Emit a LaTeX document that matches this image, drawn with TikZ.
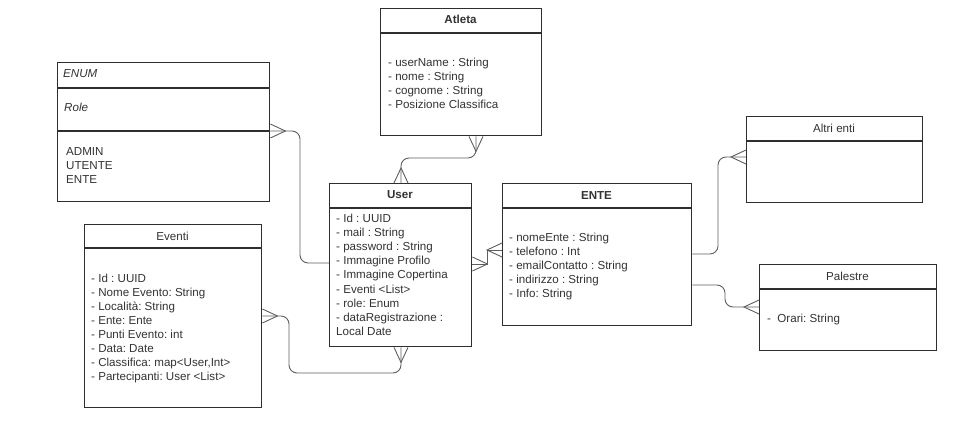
\documentclass[tikz,border=0pt]{standalone}
\usepackage{fontspec}
\setmainfont{Liberation Sans}
\usetikzlibrary{calc}
\frenchspacing
\definecolor{boxc}{HTML}{2E2E2E}
\definecolor{txtc}{HTML}{333333}
\definecolor{connc}{HTML}{5E5E5E}
\newcommand\crowv[2]{\draw[conn] ($(#1)+(-7,0)$) -- ($(#1)+(0,#2*15)$) -- ($(#1)+(7,0)$);}
\newcommand\crowh[2]{\draw[conn] ($(#1)+(0,-7)$) -- ($(#1)+(#2*15,0)$) -- ($(#1)+(0,7)$);}
\newcommand\attrlist[5]{%
  \foreach \t [count=\i from 0] in {#5} {
    \node[attr] (#1-\i) at (#2, {#3+#4*\i}) {\t};
  }}
\begin{document}
\begin{tikzpicture}[x=1pt,y=-1pt,
  box/.style={draw=boxc, line width=1.4pt, fill=white, inner sep=0pt, anchor=north west},
  sepline/.style={draw=boxc, line width=1.4pt},
  conn/.style={draw=connc, line width=0.9pt},
  ttl/.style={text=txtc, inner sep=0pt, anchor=base},
  attr/.style={text=txtc, inner sep=0pt, anchor=base west},
  font=\fontsize{11.6}{14}\selectfont\frenchspacing]
\useasboundingbox (0,0) rectangle (976,442);
\fill[white] (0,0) rectangle (976,442);

% boxes
\node[box, minimum width=161, minimum height=127] (atleta) at (380,8) {};
\node[box, minimum width=212, minimum height=139] (enum) at (57,62) {};
\node[box, minimum width=142, minimum height=163] (user) at (329,183) {};
\node[box, minimum width=189, minimum height=142] (ente) at (502,183) {};
\node[box, minimum width=176, minimum height=86] (altri) at (746,116) {};
\node[box, minimum width=177, minimum height=86] (palestre) at (759,264) {};
\node[box, minimum width=177, minimum height=183] (eventi) at (84,224) {};

% separators
\draw[sepline] (atleta.west |- 0,33) -- (atleta.east |- 0,33);
\draw[sepline] (enum.west |- 0,88) -- (enum.east |- 0,88);
\draw[sepline] (enum.west |- 0,131) -- (enum.east |- 0,131);
\draw[sepline] (user.west |- 0,208) -- (user.east |- 0,208);
\draw[sepline] (ente.west |- 0,208) -- (ente.east |- 0,208);
\draw[sepline] (altri.west |- 0,141) -- (altri.east |- 0,141);
\draw[sepline] (palestre.west |- 0,289) -- (palestre.east |- 0,289);
\draw[sepline] (eventi.west |- 0,248) -- (eventi.east |- 0,248);

% titles
\node[ttl] (atleta-title) at (460.5,23) {\bfseries Atleta};
\node[ttl] (user-title) at (400,198) {\bfseries User};
\node[ttl] (ente-title) at (596.5,199) {\bfseries ENTE};
\node[ttl] (altri-title) at (834,132) {Altri enti};
\node[ttl] (palestre-title) at (847.5,280) {Palestre};
\node[ttl] (eventi-title) at (172.5,240) {Eventi};
\node[attr] (enum-title) at (63,77) {\itshape ENUM};
\node[attr] (enum-role) at (64,111) {\itshape Role};

% attributes
\attrlist{atleta}{388}{66}{14}{- userName : String, - nome : String, - cognome : String, - Posizione Classifica}
\attrlist{enumv}{66}{155}{14}{ADMIN, UTENTE, ENTE}
\attrlist{user}{336}{222}{14.2}{- Id : UUID, - mail : String, - password : String, - Immagine Profilo, - Immagine Copertina, - Eventi <List>, - role: Enum, - dataRegistrazione :, Local Date}
\attrlist{ente}{509}{241}{14}{- nomeEnte : String, - telefono : Int, - emailContatto : String, - indirizzo : String, - Info: String}
\node[attr] (palestre-0) at (767,322) {-\hspace{0.55em}Orari: String};
\attrlist{eventi}{91}{282}{14.1}{- Id : UUID, - Nome Evento: String, - Località: String, - Ente: Ente, - Punti Evento: int, - Data: Date, {- Classifica: map<User,Int>}, - Partecipanti: User <List>}

% connectors
\coordinate (cA) at (atleta.south -| 476,0);
\coordinate (cU1) at (user.north -| 401,0);
\draw[conn, rounded corners=8] (cA) -- (cA |- 0,158) -- (cU1 |- 0,158) -- (cU1);
\crowv{cA}{1}
\crowv{cU1}{-1}

\coordinate (cE) at (enum.east |- 0,131);
\coordinate (cU2) at (user.west |- 0,263);
\draw[conn, rounded corners=8] (cE) -- (cE -| 300,0) -- (300,263) -- (cU2);
\crowh{cE}{1}

\coordinate (cV) at (eventi.east |- 0,316);
\coordinate (cU3) at (user.south -| 401,0);
\draw[conn, rounded corners=8] (cV) -- (cV -| 289,0) -- (289,373) -- (cU3 |- 0,373) -- (cU3);
\crowh{cV}{1}
\crowv{cU3}{1}

\coordinate (cU4) at (user.east |- 0,264);
\coordinate (cN1) at (ente.west |- 0,250);
\draw[conn] (cU4) -- (cU4 -| 487,0) -- (487,250) -- (cN1);
\crowh{cU4}{1}
\crowh{cN1}{-1}

\coordinate (cN2) at (ente.east |- 0,254);
\coordinate (cL) at (altri.west |- 0,157);
\draw[conn, rounded corners=8] (cN2) -- (cN2 -| 718,0) -- (718,157) -- (cL);
\crowh{cL}{-1}

\coordinate (cN3) at (ente.east |- 0,285);
\coordinate (cP) at (palestre.west |- 0,307);
\draw[conn, rounded corners=8] (cN3) -- (cN3 -| 725,0) -- (725,307) -- (cP);
\crowh{cP}{-1}
\end{tikzpicture}
\end{document}
